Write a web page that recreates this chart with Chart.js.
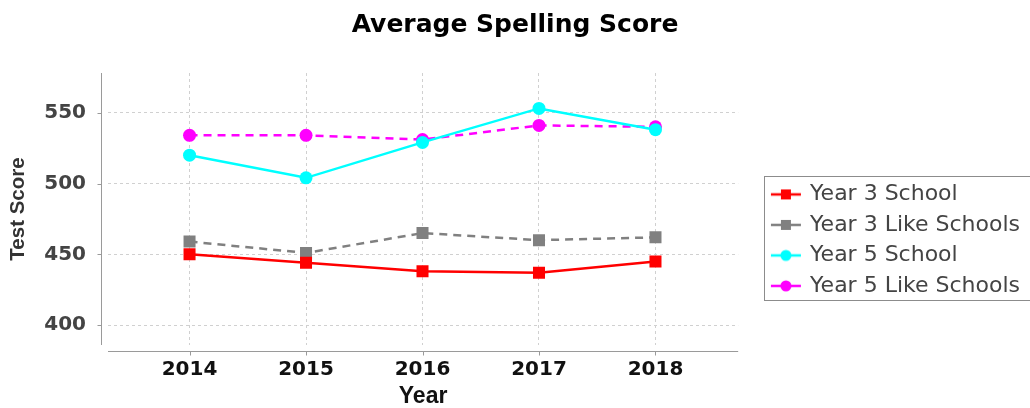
<!DOCTYPE html>
<html>
<head>
<meta charset="utf-8">
<script src="https://cdn.jsdelivr.net/npm/chart.js@4.4.1/dist/chart.umd.min.js"></script>
<style>
  html, body { margin: 0; padding: 0; background: #ffffff; }
  #wrap { width: 1030px; height: 408px; }
</style>
</head>
<body>
<div id="wrap"><canvas id="c" width="1030" height="408"></canvas></div>
<script>
// ---- data ----
const years = [2014, 2015, 2016, 2017, 2018];
const year3School = [450, 444, 438, 437, 445];
const year3LikeSchools = [459, 451, 465, 460, 462];
const year5School = [520, 504, 529, 553, 538];
const year5LikeSchools = [534, 534, 531, 541, 540];
const seriesNames = ['Year 3 School', 'Year 3 Like Schools', 'Year 5 School', 'Year 5 Like Schools'];
const yTickValues = [400, 450, 500, 550];

const colors = ['#ff0000', '#808080', '#00ffff', '#ff00ff'];
const shapes = ['rect', 'rect', 'circle', 'circle'];
const dashes = [[], [8, 6], [], [8, 6]];
const seriesValues = [year3School, year3LikeSchools, year5School, year5LikeSchools];

function legendSymbol(color, shape) {
  const c = document.createElement('canvas');
  c.width = 60; c.height = 16;
  const g = c.getContext('2d');
  g.strokeStyle = color; g.lineWidth = 2.5;
  g.beginPath(); g.moveTo(28, 8); g.lineTo(58, 8); g.stroke();
  g.fillStyle = color;
  if (shape === 'rect') { g.fillRect(43 - 5, 3, 10, 10); }
  else { g.beginPath(); g.arc(43, 8, 5.5, 0, Math.PI * 2); g.fill(); }
  return c;
}
const symbols = colors.map((c, i) => legendSymbol(c, shapes[i]));

const datasets = seriesNames.map((name, i) => ({
  label: name,
  data: years.map((x, j) => ({ x: x, y: seriesValues[i][j] })),
  borderColor: colors[i],
  backgroundColor: colors[i],
  borderWidth: 2.5,
  borderDash: dashes[i],
  pointStyle: shapes[i],
  pointRadius: shapes[i] === 'rect' ? 8.5 : 6.5,
  pointBorderWidth: 0,
  pointBackgroundColor: colors[i],
  tension: 0,
  fill: false
}));

const axisLinesPlugin = {
  id: 'axisLines',
  beforeDatasetsDraw(chart) {
    const { ctx, chartArea: a, scales } = chart;
    ctx.save();
    ctx.strokeStyle = '#9a9a9a';
    ctx.lineWidth = 1;
    const ax = Math.round(a.left - 7) + 0.5;
    ctx.beginPath();
    ctx.moveTo(ax, a.top); ctx.lineTo(ax, a.bottom);
    scales.y.ticks.forEach(t => {
      const py = Math.round(scales.y.getPixelForValue(t.value)) + 0.5;
      ctx.moveTo(ax - 4, py); ctx.lineTo(ax, py);
    });
    const ay = Math.round(a.bottom + 6) + 0.5;
    ctx.moveTo(a.left, ay); ctx.lineTo(a.right, ay);
    scales.x.ticks.forEach(t => {
      const px = Math.round(scales.x.getPixelForValue(t.value)) + 0.5;
      ctx.moveTo(px, ay); ctx.lineTo(px, ay + 4);
    });
    ctx.stroke();
    ctx.restore();
  },
  afterDraw(chart) {
    const L = chart.legend;
    if (!L) return;
    const { ctx } = chart;
    ctx.save();
    ctx.strokeStyle = '#8c8c8c';
    ctx.lineWidth = 1;
    const x0 = Math.round(L.left + 26) + 0.5;
    const y0 = 176.5;
    ctx.strokeRect(x0, y0, 1040 - x0, 124);
    ctx.restore();
  }
};

new Chart(document.getElementById('c'), {
  type: 'line',
  data: { datasets },
  plugins: [axisLinesPlugin],
  options: {
    responsive: false,
    animation: false,
    devicePixelRatio: 1,
    layout: { padding: 0 },
    plugins: {
      title: {
        display: true,
        text: 'Average Spelling Score',
        color: '#000000',
        font: { family: '"DejaVu Sans"', size: 25, weight: 'bold' },
        padding: { top: 10, bottom: 33 }
      },
      legend: {
        position: 'right',
        align: 'start',
        maxWidth: 400,
        title: { display: true, text: '', font: { size: 12 }, padding: { top: 160.5, bottom: 0 } },
        labels: {
          usePointStyle: true,
          pointStyleWidth: 52.4,
          padding: 8.5,
          color: '#444444',
          font: { family: '"DejaVu Sans"', size: 22 },
          generateLabels(chart) {
            return chart.data.datasets.map((ds, i) => ({
              text: ds.label,
              pointStyle: symbols[i],
              fillStyle: colors[i],
              strokeStyle: colors[i],
              lineWidth: 0,
              hidden: false,
              datasetIndex: i,
              fontColor: '#444444'
            }));
          }
        }
      },
      tooltip: { enabled: false }
    },
    scales: {
      x: {
        type: 'linear',
        min: 2013.3,
        max: 2018.71,
        border: { display: false, dash: [3, 3] },
        grid: { color: '#d0d0d0', lineWidth: 1, drawTicks: false },
        ticks: {
          stepSize: 1,
          includeBounds: false,
          padding: 13,
          color: '#111111',
          font: { family: '"DejaVu Sans"', size: 20, weight: 'bold' },
          callback: v => String(v)
        },
        title: {
          display: true,
          text: 'Year',
          color: '#111111',
          font: { family: '"Liberation Sans"', size: 23, weight: 'bold', lineHeight: 1 },
          padding: { top: 0, bottom: 0 }
        },
        afterFit: scale => { scale.height = 63; }
      },
      y: {
        type: 'linear',
        min: 386,
        max: 578,
        border: { display: false, dash: [3, 3] },
        grid: { color: '#d0d0d0', lineWidth: 1, drawTicks: false },
        ticks: {
          stepSize: 50,
          includeBounds: false,
          padding: 22,
          color: '#444444',
          font: { family: '"DejaVu Sans"', size: 20, weight: 'bold' },
          callback: v => String(v)
        },
        afterBuildTicks: scale => { scale.ticks = yTickValues.map(v => ({ value: v })); },
        title: {
          display: true,
          text: 'Test Score',
          color: '#333333',
          font: { family: '"Liberation Sans"', size: 20.5, weight: 'bold' },
          padding: { top: 6, bottom: 0 }
        },
        afterFit: scale => { scale.width = 108; }
      }
    }
  }
});
</script>
</body>
</html>
